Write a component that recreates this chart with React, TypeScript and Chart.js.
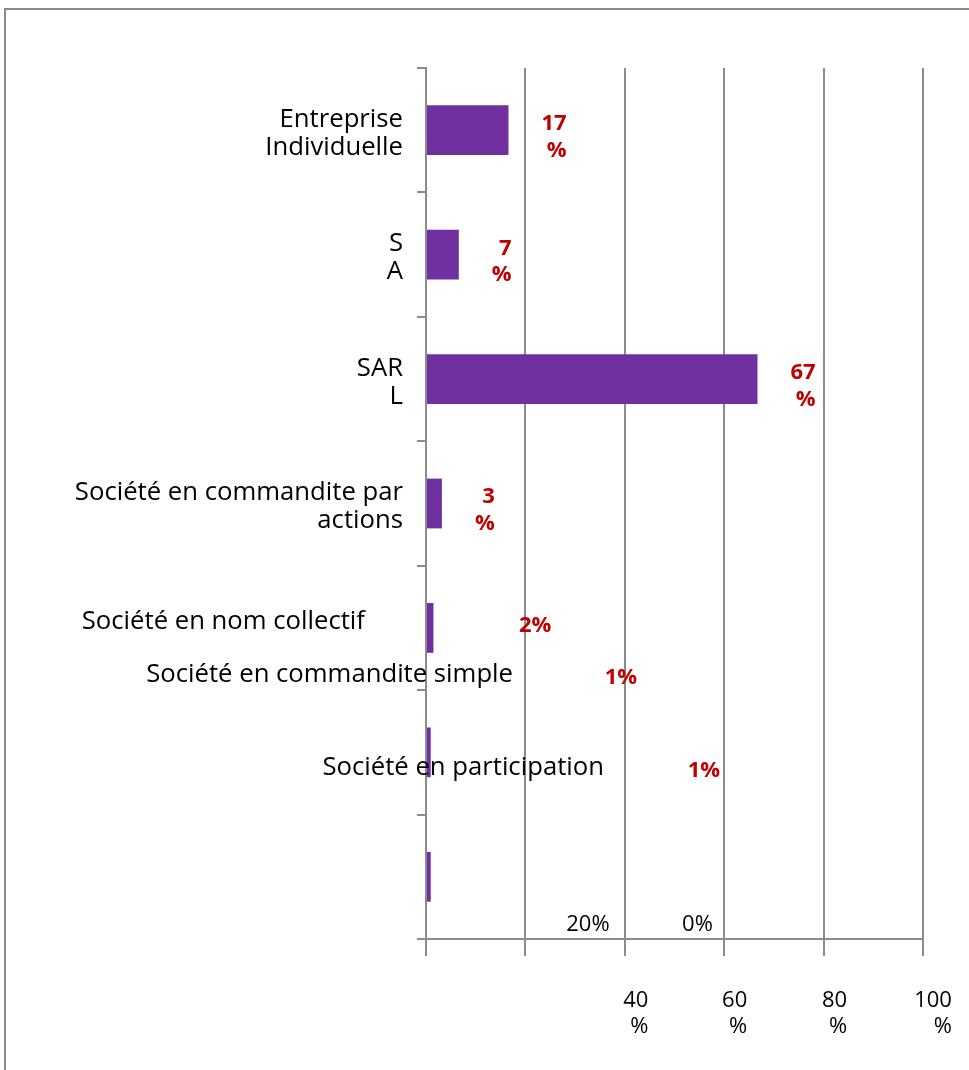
import { useEffect, useRef } from "react";
import { Chart, registerables } from "chart.js";

Chart.register(...registerables);

// ---- data ----
const categories = [
  "Entreprise Individuelle",
  "SA",
  "SARL",
  "Société en commandite par actions",
  "Société en nom collectif",
  "Société en commandite simple",
  "Société en participation",
];
const categoryLines = [
  ["Entreprise", "Individuelle"],
  ["S", "A"],
  ["SAR", "L"],
  ["Société en commandite par", "actions"],
  ["Société en nom collectif"],
  ["Société en commandite simple"],
  ["Société en participation"],
];
const values = [16.6, 6.6, 66.7, 3.2, 1.5, 0.95, 0.95];
const valueLabels = [
  ["17", "%"],
  ["7", "%"],
  ["67", "%"],
  ["3", "%"],
  ["2%"],
  ["1%"],
  ["1%"],
];
const xTickValues = [0, 20, 40, 60, 80, 100];
const xTickLabels = [["0%"], ["20%"], ["40", "%"], ["60", "%"], ["80", "%"], ["100", "%"]];

// ---- layout (label placement quirks of the original) ----
// [dx of right edge from axis, dy of first baseline from band centre]
const catLabelPlacement = [
  [-23, -3.5],
  [-23, -3.5],
  [-23, -3.5],
  [-23, -3.5],
  [-61, 1.5],
  [87, -70],
  [178, -102],
];
// [dx of left edge from bar end, dy of first baseline from band centre]
const valueLabelPlacement = [
  [33, 0],
  [33, 0],
  [33, 0],
  [33, -0.5],
  [85.5, 4.5],
  [174, -68],
  [257, -100],
];
// [dx of block centre from gridline, dy of first baseline from axis line]
const xTickPlacement = [
  [271.5, -8],
  [62.5, -8],
  [11, 68],
  [10.5, 68],
  [11, 68],
  [10, 68],
];

const FONT = "'Open Sans', Lato, sans-serif";
const GRID = "#8c8c8c";

const overlay = {
  id: "overlay",
  beforeDraw(chart: any) {
    const ctx = chart.ctx;
    ctx.save();
    ctx.fillStyle = "#ffffff";
    ctx.fillRect(0, 0, chart.width, chart.height);
    ctx.strokeStyle = "#8a8a8a";
    ctx.lineWidth = 2;
    ctx.strokeRect(5, 9, 3000, 3000);
    ctx.restore();
  },
  afterDraw(chart: any) {
    const ctx = chart.ctx;
    const x = chart.scales.x;
    const y = chart.scales.y;
    ctx.save();
    ctx.textBaseline = "alphabetic";

    // category labels
    ctx.font = `25.7px ${FONT}`;
    ctx.fillStyle = "#000000";
    ctx.textAlign = "right";
    categoryLines.forEach((lines, i) => {
      const cy = y.getPixelForValue(i);
      const [dx, dy] = catLabelPlacement[i];
      lines.forEach((t, j) => ctx.fillText(t, x.left + dx, cy + dy + j * 28));
    });

    // value labels
    ctx.font = `bold 22px ${FONT}`;
    ctx.fillStyle = "#C00000";
    values.forEach((v, i) => {
      const lines = valueLabels[i];
      const w = Math.max(...lines.map((t) => ctx.measureText(t).width));
      const cy = y.getPixelForValue(i);
      const [dx, dy] = valueLabelPlacement[i];
      const left = x.getPixelForValue(v) + dx;
      lines.forEach((t, j) => ctx.fillText(t, left + w, cy + dy + j * 26.5));
    });

    // x tick labels
    ctx.font = `22px ${FONT}`;
    ctx.fillStyle = "#000000";
    const axisY = chart.chartArea.bottom;
    xTickValues.forEach((v, i) => {
      const lines = xTickLabels[i];
      const w = Math.max(...lines.map((t) => ctx.measureText(t).width));
      const gx = x.getPixelForValue(v);
      const [dx, dy] = xTickPlacement[i];
      const right = gx + dx + w / 2;
      lines.forEach((t, j) => ctx.fillText(t, right, axisY + dy + j * 26));
    });
    ctx.restore();
  },
};

export default function App() {
  const ref = useRef<HTMLCanvasElement | null>(null);
  useEffect(() => {
    if (!ref.current) return;
    const chart = new Chart(ref.current, {
      type: "bar",
      data: {
        labels: categories,
        datasets: [
          {
            data: values,
            backgroundColor: "#7030A0",
            borderWidth: 0,
            categoryPercentage: 1,
            barPercentage: 0.4,
          },
        ],
      },
      options: {
        indexAxis: "y",
        responsive: false,
        animation: false,
        devicePixelRatio: 1,
        layout: { padding: { left: 426, right: 46, top: 68, bottom: 131 } },
        plugins: { legend: { display: false }, tooltip: { enabled: false } },
        scales: {
          x: {
            min: 0,
            max: 100,
            ticks: { stepSize: 20, display: false },
            grid: { color: GRID, lineWidth: 2, drawTicks: true, tickLength: 17 },
            border: { display: true, color: GRID, width: 2 },
            afterFit: (s: any) => {
              s.height = 0;
            },
          },
          y: {
            ticks: { display: false },
            grid: {
              offset: true,
              drawOnChartArea: false,
              drawTicks: true,
              tickLength: 9,
              color: GRID,
              lineWidth: 2,
            },
            border: { display: true, color: GRID, width: 2 },
            afterFit: (s: any) => {
              s.width = 0;
            },
          },
        },
      },
      plugins: [overlay],
    } as any);
    if ((document as any).fonts && (document as any).fonts.load) {
      Promise.all([
        (document as any).fonts.load(`25.7px 'Open Sans'`),
        (document as any).fonts.load(`bold 22px 'Open Sans'`),
      ])
        .then(() => chart.draw())
        .catch(() => {});
    }
    return () => chart.destroy();
  }, []);
  return (
    <div style={{ position: "absolute", left: 0, top: 0, width: 969, height: 1070 }}>
      <canvas ref={ref} width={969} height={1070} style={{ display: "block" }} />
    </div>
  );
}
